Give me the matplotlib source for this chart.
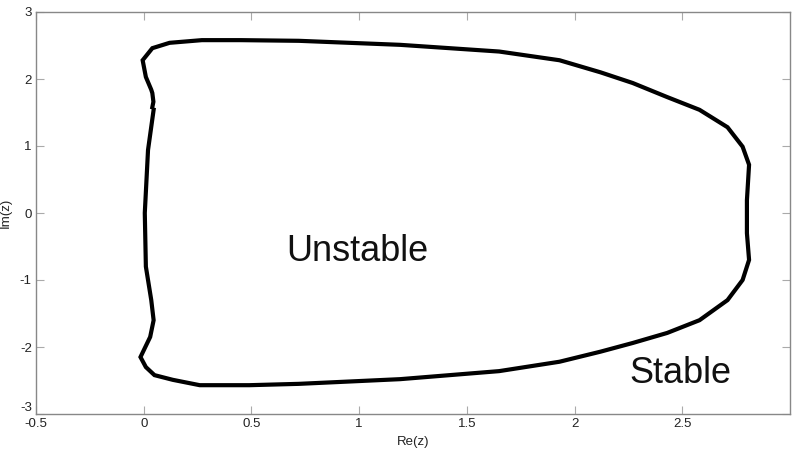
import matplotlib
matplotlib.use("Agg")
import matplotlib.pyplot as plt

# stability boundary (one closed loop, open at the small gap near Im=1.6)
re_pts = [0.04, 0.045, 0.04, 0.035, 0.01, -0.005, 0.04, 0.12, 0.27, 0.45, 0.72,
          1.19, 1.65, 1.93, 2.12, 2.27, 2.43, 2.58, 2.71, 2.78, 2.81, 2.80, 2.80,
          2.81, 2.78, 2.71, 2.58, 2.43, 2.27, 2.12, 1.93, 1.65, 1.19, 0.72, 0.49,
          0.26, 0.135, 0.05, 0.01, -0.015, 0.03, 0.046, 0.035, 0.01, 0.005, 0.02, 0.046]
im_pts = [1.58, 1.66, 1.79, 1.84, 2.03, 2.28, 2.46, 2.54, 2.58, 2.58, 2.57,
          2.51, 2.41, 2.28, 2.10, 1.94, 1.73, 1.54, 1.28, 0.99, 0.72, 0.19, -0.30,
          -0.70, -1.00, -1.30, -1.60, -1.79, -1.94, -2.07, -2.22, -2.36, -2.48, -2.55, -2.57,
          -2.57, -2.49, -2.42, -2.30, -2.15, -1.85, -1.60, -1.30, -0.80, 0.0, 0.94, 1.54]

labels = ["Unstable", "Stable"]
label_x = [0.99, 2.49]
label_y = [-0.58, -2.39]

xticks = [-0.5, 0, 0.5, 1, 1.5, 2, 2.5]
xticklabels = ["-0.5", "0", "0.5", "1", "1.5", "2", "2.5"]
yticks = [-3, -2, -1, 0, 1, 2, 3]

plt.rcParams["font.family"] = ["Liberation Sans", "DejaVu Sans"]
plt.rcParams["axes.unicode_minus"] = False

fig = plt.figure(figsize=(7.96, 4.53), dpi=100)
ax = fig.add_axes([36 / 796, 39 / 453, 754 / 796, 402 / 453])

ax.plot(re_pts, im_pts, color="black", lw=3.0, solid_joinstyle="miter")

for txt, x, y in zip(labels, label_x, label_y):
    ax.text(x, y, txt, fontsize=26, ha="center", va="center", color="#111111")

ax.set_xlim(-0.5, 3.0)
ax.set_ylim(-3, 3)
ax.set_xticks(xticks)
ax.set_xticklabels(xticklabels)
ax.set_yticks(yticks)
ax.tick_params(direction="in", length=6, color="#aaaaaa", labelsize=9.5,
               labelcolor="#222222", top=True, right=True, pad=3)
# the bottom y label sits just above the x axis corner, as in the original
ax.get_yticklabels()[0].set_verticalalignment("bottom")
for s in ax.spines.values():
    s.set_color("#888888")
    s.set_linewidth(1.0)

ax.set_xlabel("Re(z)", fontsize=9.5, labelpad=4, color="#222222")
ax.set_ylabel("Im(z)", fontsize=9.5, color="#222222")
ax.yaxis.set_label_coords(-0.032, 0.5)

fig.savefig("out.png", dpi=100)
